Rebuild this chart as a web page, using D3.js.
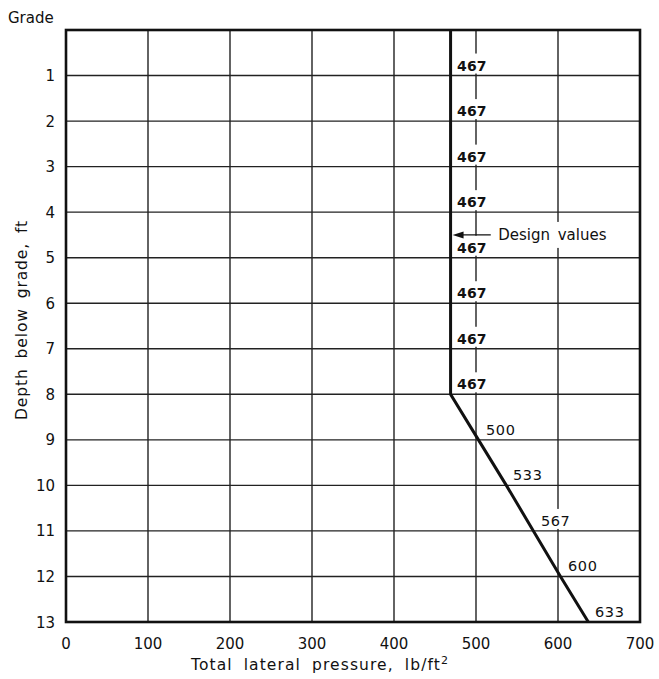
<!DOCTYPE html>
<html><head><meta charset="utf-8">
<script src="https://cdn.jsdelivr.net/npm/d3@7"></script>
<style>body{margin:0;background:#fff}svg{display:block}text{font-family:"DejaVu Sans",sans-serif;fill:#111}</style>
</head><body>
<script>
const depths = [0,1,2,3,4,5,6,7,8,9,10,11,12,13];
const pressures = [469,469,469,469,469,469,469,469,469,503,537,570,603,637];
const labelDepths = [1,2,3,4,5,6,7,8,9,10,11,12,13];
const labelValues = ["467","467","467","467","467","467","467","467","500","533","567","600","633"];
const labelX = [467,467,467,467,467,467,467,467,500,533,567,600,633];
const xTicks = [0,100,200,300,400,500,600,700];
const yTicks = [1,2,3,4,5,6,7,8,9,10,11,12,13];

const W=659,H=679;
const m={l:66,r:19,t:30,b:57};
const svg=d3.select("body").append("svg").attr("width",W).attr("height",H);
const x=d3.scaleLinear().domain([0,700]).range([m.l,W-m.r]);
const y=d3.scaleLinear().domain([0,13]).range([m.t,H-m.b]);

// grid
svg.append("g").selectAll("line").data(xTicks.slice(1,-1)).join("line")
 .attr("x1",d=>x(d)).attr("x2",d=>x(d)).attr("y1",y(0)).attr("y2",y(13))
 .attr("stroke","#222").attr("stroke-width",1.4);
svg.append("g").selectAll("line").data(yTicks.slice(0,-1)).join("line")
 .attr("x1",x(0)).attr("x2",x(700)).attr("y1",d=>y(d)).attr("y2",d=>y(d))
 .attr("stroke","#222").attr("stroke-width",1.4);

// labels with white background
const bg=svg.append("g"), lab=svg.append("g");
labelDepths.forEach((d,i)=>{
  const v=labelX[i];
  const is467 = labelValues[i]==="467";
  const tx = is467 ? x(v)+8 : x(v)+10;
  const ty = y(d)-5;
  const t=lab.append("text").attr("x",tx).attr("y",ty).attr("font-size",is467?14:14.5)
    .attr("letter-spacing",is467?0.2:0.6)
    .attr("font-weight",is467?"bold":"normal").text(labelValues[i]);
  const bb=t.node().getBBox();
  bg.append("rect").attr("x",bb.x-1).attr("y",bb.y-4).attr("width",bb.width+2)
    .attr("height",Math.min(bb.height+4,y(d)-1-(bb.y-4))).attr("fill","#fff");
});

// Design values annotation
const dvg=svg.append("g");
const dv=dvg.append("text").attr("x",x(527)).attr("y",y(4.5)+5).attr("font-size",15).attr("word-spacing",3).text("Design values");
const db=dv.node().getBBox();
dvg.insert("rect",()=>dv.node()).attr("x",db.x-3).attr("y",db.y-4).attr("width",db.width+6).attr("height",db.height+8).attr("fill","#fff");
svg.append("line").attr("x1",x(518)).attr("x2",x(469)+8).attr("y1",y(4.5)).attr("y2",y(4.5))
  .attr("stroke","#111").attr("stroke-width",1.4);
svg.append("path").attr("d",`M${x(469)+2},${y(4.5)} l11,-3.5 l0,7 z`).attr("fill","#111");

// frame
svg.append("rect").attr("x",x(0)).attr("y",y(0)).attr("width",x(700)-x(0)).attr("height",y(13)-y(0))
 .attr("fill","none").attr("stroke","#111").attr("stroke-width",2.6);

// pressure line
svg.append("path").datum(depths.map((d,i)=>[pressures[i],d]))
 .attr("d",d3.line().x(p=>x(p[0])).y(p=>y(p[1])))
 .attr("fill","none").attr("stroke","#111").attr("stroke-width",3);

// tick labels
svg.append("g").selectAll("text").data(xTicks).join("text")
 .attr("x",d=>x(d)).attr("y",y(13)+27).attr("text-anchor","middle").attr("font-size",15).text(d=>d);
svg.append("g").selectAll("text").data(yTicks).join("text")
 .attr("x",x(0)-11).attr("y",d=>y(d)+5.5).attr("text-anchor","end").attr("font-size",15).text(d=>d);
svg.append("text").attr("x",8).attr("y",23).attr("font-size",15).text("Grade");

// axis titles
const xt=svg.append("text").attr("x",320).attr("y",H-9).attr("text-anchor","middle").attr("font-size",15.5)
  .attr("letter-spacing",1.1).attr("word-spacing",5);
xt.append("tspan").text("Total lateral pressure, lb/ft");
xt.append("tspan").attr("dy",-6).attr("font-size",11).text("2");
svg.append("text").attr("transform",`translate(27,320) rotate(-90)`).attr("text-anchor","middle")
 .attr("font-size",15.5).attr("letter-spacing",0.9).attr("word-spacing",4).text("Depth below grade, ft");
</script>
</body></html>
